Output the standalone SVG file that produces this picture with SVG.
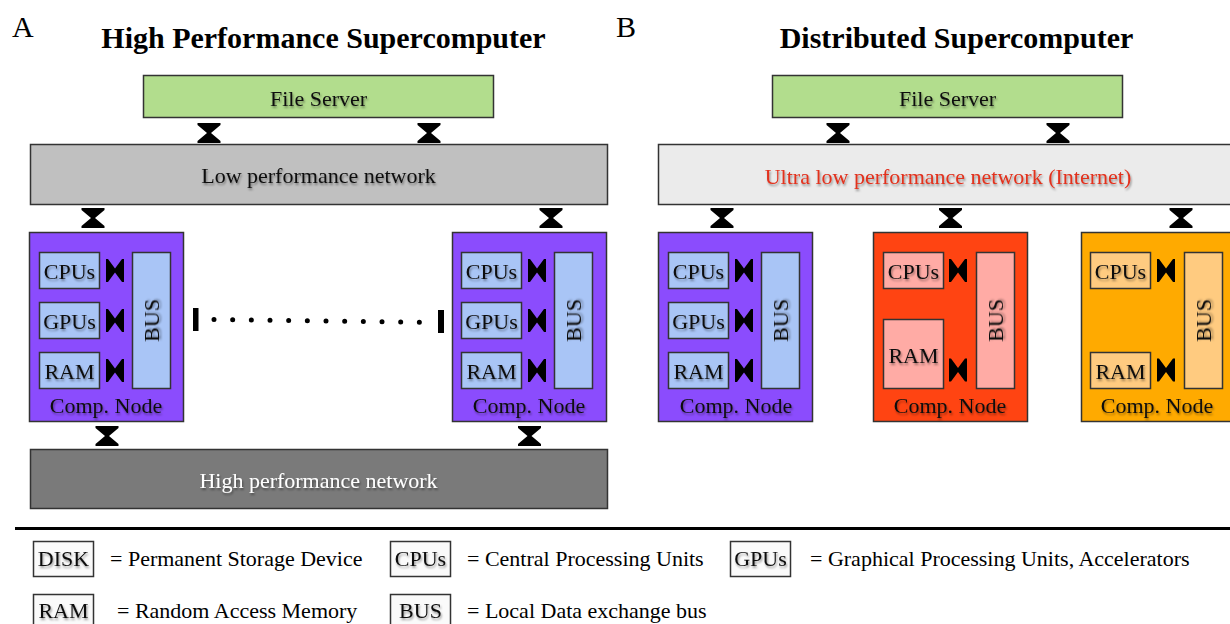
<svg xmlns="http://www.w3.org/2000/svg" width="1230" height="624" viewBox="0 0 1230 624">
<style>
text{font-family:"Liberation Serif","Times New Roman",serif;}
.t{font-size:22px;fill:#111;text-anchor:middle;filter:url(#sh);}
.tw{font-size:22px;fill:#fff;text-anchor:middle;filter:url(#sh);}
.tr{font-size:22px;fill:#e2301c;text-anchor:middle;filter:url(#sh);}
.ttl{font-size:30px;font-weight:bold;fill:#000;text-anchor:middle;}
.lab{font-size:30px;fill:#000;}
.leg{font-size:22px;fill:#000;}
.bx{stroke:#333;stroke-width:1.5;}
.fs{fill:#b2dd8d;}
.pn{fill:#8b4cfd;}
.pb{fill:#a9c5f6;}
.rn{fill:#ff4412;}
.rb{fill:#ffaba5;}
.on{fill:#ffaa00;}
.ob{fill:#ffcb80;}
.lg{fill:#fafafa;}
.k{fill:#000;}
</style>
<defs>
<filter id="sh" x="-20%" y="-40%" width="140%" height="180%"><feDropShadow dx="1" dy="2" stdDeviation="1.2" flood-color="#000" flood-opacity="0.4"/></filter>
<path id="hg" d="M-11.5,0 H11.5 V2 L2,10 L11.5,18 V20 H-11.5 V18 L-2,10 L-11.5,2 Z"/>
<path id="bt" d="M0,-11.5 H2 L9,-2 L16,-11.5 H18 V11.5 H16 L9,2 L2,11.5 H0 Z"/>
</defs>

<text class="lab" x="12" y="37">A</text>
<text class="ttl" x="323.5" y="48">High Performance Supercomputer</text>
<text class="lab" x="616" y="37">B</text>
<text class="ttl" x="956.5" y="48">Distributed Supercomputer</text>

<g id="fileserverA"><rect class="bx fs" x="143.5" y="75.5" width="350" height="42"/><text class="t" x="318.5" y="106">File Server</text></g>
<g id="lownet"><rect class="bx" fill="#c0c0c0" x="30.5" y="144.5" width="577" height="60"/><text class="t" x="318.5" y="183">Low performance network</text></g>
<g id="hpnet"><rect class="bx" fill="#7a7a7a" x="30.5" y="449.5" width="577" height="59"/><text class="tw" x="318.5" y="488">High performance network</text></g>

<g id="nodeA1">
<rect class="bx pn" x="29.5" y="232.5" width="154" height="189"/>
<rect class="bx pb" x="39.5" y="252.5" width="60" height="36"/><text class="t" x="69.5" y="279">CPUs</text>
<rect class="bx pb" x="39.5" y="302.5" width="60" height="36"/><text class="t" x="69.5" y="329">GPUs</text>
<rect class="bx pb" x="39.5" y="352.5" width="60" height="36"/><text class="t" x="69.5" y="379">RAM</text>
<rect class="bx pb" x="132.5" y="252.5" width="38" height="136"/><text class="t" transform="translate(159,320.5) rotate(-90)">BUS</text>
<text class="t" x="106" y="413">Comp. Node</text>
</g>
<g id="nodeA2">
<rect class="bx pn" x="452.5" y="232.5" width="154" height="189"/>
<rect class="bx pb" x="461.5" y="252.5" width="60" height="36"/><text class="t" x="491.5" y="279">CPUs</text>
<rect class="bx pb" x="461.5" y="302.5" width="60" height="36"/><text class="t" x="491.5" y="329">GPUs</text>
<rect class="bx pb" x="461.5" y="352.5" width="60" height="36"/><text class="t" x="491.5" y="379">RAM</text>
<rect class="bx pb" x="554.5" y="252.5" width="38" height="136"/><text class="t" transform="translate(581,320.5) rotate(-90)">BUS</text>
<text class="t" x="529" y="413">Comp. Node</text>
</g>

<g id="fileserverB"><rect class="bx fs" x="772.5" y="75.5" width="350" height="42"/><text class="t" x="947.5" y="106">File Server</text></g>
<g id="internet"><rect class="bx" fill="#ebebeb" x="658.5" y="144.5" width="580" height="60"/><text class="tr" x="948" y="184">Ultra low performance network (Internet)</text></g>

<g id="nodeB1">
<rect class="bx pn" x="658.5" y="232.5" width="154" height="189"/>
<rect class="bx pb" x="668.5" y="252.5" width="60" height="36"/><text class="t" x="698.5" y="279">CPUs</text>
<rect class="bx pb" x="668.5" y="302.5" width="60" height="36"/><text class="t" x="698.5" y="329">GPUs</text>
<rect class="bx pb" x="668.5" y="352.5" width="60" height="36"/><text class="t" x="698.5" y="379">RAM</text>
<rect class="bx pb" x="761.5" y="252.5" width="38" height="136"/><text class="t" transform="translate(788,320.5) rotate(-90)">BUS</text>
<text class="t" x="736" y="413">Comp. Node</text>
</g>
<g id="nodeB2">
<rect class="bx rn" x="873.5" y="232.5" width="154" height="189"/>
<rect class="bx rb" x="883.5" y="252.5" width="60" height="36"/><text class="t" x="913.5" y="279">CPUs</text>
<rect class="bx rb" x="883.5" y="319.5" width="60" height="69"/><text class="t" x="913.5" y="363">RAM</text>
<rect class="bx rb" x="976.5" y="252.5" width="38" height="136"/><text class="t" transform="translate(1003,320.5) rotate(-90)">BUS</text>
<text class="t" x="950" y="413">Comp. Node</text>
</g>
<g id="nodeB3">
<rect class="bx on" x="1081.5" y="232.5" width="156" height="189"/>
<rect class="bx ob" x="1090.5" y="252.5" width="60" height="36"/><text class="t" x="1120.5" y="279">CPUs</text>
<rect class="bx ob" x="1090.5" y="352.5" width="60" height="36"/><text class="t" x="1120.5" y="379">RAM</text>
<rect class="bx ob" x="1184.5" y="252.5" width="38" height="136"/><text class="t" transform="translate(1211,320.5) rotate(-90)">BUS</text>
<text class="t" x="1157" y="413">Comp. Node</text>
</g>

<g id="connectors" class="k">
<use href="#hg" x="209" y="123"/><use href="#hg" x="429" y="123"/>
<use href="#hg" x="93" y="208"/><use href="#hg" x="551" y="208"/>
<use href="#hg" x="107" y="426"/><use href="#hg" x="529.5" y="426"/>
<use href="#hg" x="838" y="123"/><use href="#hg" x="1058" y="123"/>
<use href="#hg" x="722" y="208"/><use href="#hg" x="950.5" y="208"/><use href="#hg" x="1181" y="208"/>
<use href="#bt" x="106" y="270.5"/><use href="#bt" x="106" y="320.5"/><use href="#bt" x="106" y="370.5"/>
<use href="#bt" x="528" y="270.5"/><use href="#bt" x="528" y="320.5"/><use href="#bt" x="528" y="370.5"/>
<use href="#bt" x="735" y="270.5"/><use href="#bt" x="735" y="320.5"/><use href="#bt" x="735" y="370.5"/>
<use href="#bt" x="949" y="270.5"/><use href="#bt" x="949" y="370"/>
<use href="#bt" x="1157" y="270.5"/><use href="#bt" x="1157" y="370"/>
<line x1="214" y1="319.5" x2="438" y2="322.5" stroke="#000" stroke-width="5" stroke-linecap="round" stroke-dasharray="0 18.67"/>
<rect x="193" y="308" width="5.5" height="23"/>
<rect x="438" y="310" width="6" height="23"/>
</g>

<line x1="15" y1="528.5" x2="1230" y2="528.5" stroke="#000" stroke-width="3"/>

<g id="legend">
<rect class="bx lg" x="33.5" y="541.5" width="60" height="35"/><text class="t" x="63.5" y="566">DISK</text>
<text class="leg" x="110" y="566">= Permanent Storage Device</text>
<rect class="bx lg" x="390.5" y="541.5" width="60" height="35"/><text class="t" x="420.5" y="566">CPUs</text>
<text class="leg" x="467" y="566">= Central Processing Units</text>
<rect class="bx lg" x="730.5" y="541.5" width="60" height="35"/><text class="t" x="760.5" y="566">GPUs</text>
<text class="leg" x="810" y="566">= Graphical Processing Units, Accelerators</text>
<rect class="bx lg" x="33.5" y="594.5" width="60" height="35"/><text class="t" x="63.5" y="618">RAM</text>
<text class="leg" x="117" y="618">= Random Access Memory</text>
<rect class="bx lg" x="390.5" y="594.5" width="60" height="35"/><text class="t" x="420.5" y="618">BUS</text>
<text class="leg" x="467" y="618">= Local Data exchange bus</text>
</g>
</svg>
